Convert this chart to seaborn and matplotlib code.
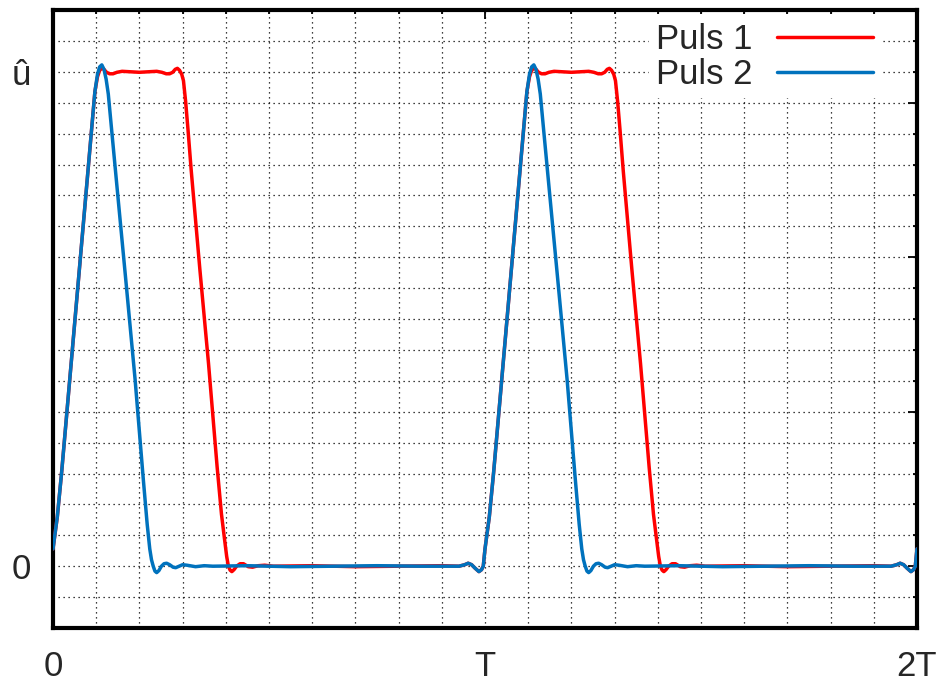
import numpy as np
import pandas as pd
import matplotlib
matplotlib.use('Agg')
import matplotlib.pyplot as plt
from matplotlib.ticker import MultipleLocator, FixedLocator, FixedFormatter
import seaborn as sns

# ── Data (one period, t in units of T, u in units of û) ──────────────────────
T_PULS1 = [0.000, 0.010, 0.020, 0.040, 0.060, 0.080, 0.090, 0.097, 0.103, 0.108,
           0.113, 0.118, 0.124, 0.131, 0.139, 0.148, 0.160, 0.180, 0.200, 0.220,
           0.240, 0.252, 0.262, 0.270, 0.277, 0.283, 0.288, 0.293, 0.298, 0.302,
           0.307, 0.3125, 0.320, 0.340, 0.360, 0.380, 0.390, 0.397, 0.402, 0.406,
           0.410, 0.414, 0.419, 0.425, 0.433, 0.441, 0.452, 0.462, 0.475, 0.490,
           0.510, 0.600, 0.700, 0.800, 0.900, 0.940, 0.953, 0.961, 0.969, 0.977,
           0.986, 0.992, 0.996]
U_PULS1 = [0.035, 0.100, 0.190, 0.390, 0.590, 0.790, 0.890, 0.960, 0.990, 1.003,
           1.007, 1.005, 0.999, 0.996, 0.996, 0.999, 1.001, 1.000, 0.999, 1.000,
           1.001, 0.999, 0.996, 0.996, 0.999, 1.005, 1.007, 1.003, 0.995, 0.982,
           0.940, 0.883, 0.800, 0.600, 0.410, 0.200, 0.105, 0.055, 0.020, 0.000,
           -0.008, -0.011, -0.007, 0.000, 0.005, 0.005, -0.001, -0.002, 0.001, 0.002,
           0.000, 0.001, -0.001, 0.000, 0.001, 0.000, 0.003, 0.006, 0.003, -0.004,
           -0.011, -0.007, 0.000]

T_PULS2 = [0.000, 0.010, 0.020, 0.040, 0.060, 0.080, 0.090, 0.097, 0.103, 0.108,
           0.113, 0.118, 0.123, 0.128, 0.136, 0.150, 0.170, 0.190, 0.209, 0.218,
           0.224, 0.228, 0.232, 0.236, 0.240, 0.245, 0.251, 0.257, 0.263, 0.270,
           0.278, 0.284, 0.292, 0.300, 0.310, 0.330, 0.350, 0.370, 0.450, 0.550,
           0.650, 0.750, 0.850, 0.940, 0.953, 0.961, 0.969, 0.977, 0.986, 0.992,
           0.996]
U_PULS2 = [0.035, 0.100, 0.190, 0.390, 0.590, 0.790, 0.890, 0.960, 0.995, 1.010,
           1.014, 1.005, 0.985, 0.955, 0.880, 0.750, 0.565, 0.378, 0.176, 0.085,
           0.035, 0.013, 0.000, -0.010, -0.013, -0.009, 0.000, 0.005, 0.006, 0.003,
           -0.002, -0.003, 0.000, 0.003, 0.002, -0.001, 0.001, 0.000, 0.001, -0.001,
           0.000, 0.001, 0.000, 0.000, 0.003, 0.006, 0.003, -0.004, -0.011, -0.007,
           0.000]

N_PERIODS = 2
X_TICKS = [0, 1, 2]
X_LABELS = ['0', 'T', '2T']
Y_TICKS = [0, 5 / 16, 10 / 16, 15 / 16, 1]
Y_LABELS = ['0', '', '', '', 'û']


def periodic(t, u, n):
    t = np.asarray(t); u = np.asarray(u)
    tt = np.concatenate([t + k for k in range(n)] + [[n]])
    uu = np.concatenate([u] * n + [[u[0]]])
    return tt, uu


t1, u1 = periodic(T_PULS1, U_PULS1, N_PERIODS)
t2, u2 = periodic(T_PULS2, U_PULS2, N_PERIODS)
df = pd.concat([
    pd.DataFrame({'t': t1, 'u': u1, 'Puls': 'Puls 1'}),
    pd.DataFrame({'t': t2, 'u': u2, 'Puls': 'Puls 2'}),
], ignore_index=True)

# ── Style ────────────────────────────────────────────────────────────────────
sns.set_style('white')
plt.rcParams['font.family'] = ['Liberation Sans', 'DejaVu Sans']

fig = plt.figure(figsize=(9.44, 6.84), dpi=100)
ax = fig.add_axes([53 / 944, 1 - 628 / 684, (917 - 53) / 944, (628 - 10) / 684])

sns.lineplot(data=df, x='t', y='u', hue='Puls', sort=False, estimator=None,
             palette={'Puls 1': '#ff0000', 'Puls 2': '#0072bd'},
             linewidth=2.5, ax=ax, zorder=3)

ax.set_xlim(0, 2)
ax.set_ylim(-2 / 16, 18 / 16)
ax.set_xlabel(''); ax.set_ylabel('')

ax.xaxis.set_major_locator(FixedLocator(X_TICKS))
ax.xaxis.set_major_formatter(FixedFormatter(X_LABELS))
ax.xaxis.set_minor_locator(MultipleLocator(0.1))
ax.yaxis.set_major_locator(FixedLocator(Y_TICKS))
ax.yaxis.set_major_formatter(FixedFormatter(Y_LABELS))
ax.yaxis.set_minor_locator(MultipleLocator(1 / 16))

ax.tick_params(which='both', direction='in', top=True, right=True,
               width=1.3, color='black', labelsize=25)
ax.tick_params(which='major', length=6.5)
ax.tick_params(which='minor', length=3.2)
ax.tick_params(axis='x', pad=16)
ax.tick_params(axis='y', pad=16)

# the û tick is a short one
for tk in ax.yaxis.get_major_ticks()[4:]:
    tk.tick1line.set_markersize(3.2)
    tk.tick2line.set_markersize(3.2)

ax.grid(which='both', color='black', linestyle=(0, (1, 3)), linewidth=0.9)
ax.set_axisbelow(True)

for sp in ax.spines.values():
    sp.set_visible(True)
    sp.set_color('black')
    sp.set_linewidth(3)

leg = ax.legend(loc='upper right', bbox_to_anchor=(0.977, 1.018), markerfirst=False,
                fontsize=25, handlelength=2.77, handletextpad=0.69,
                labelspacing=0.06, borderpad=0.2, frameon=True, fancybox=False)
leg.get_frame().set_facecolor('white')
leg.get_frame().set_edgecolor('none')
leg.get_frame().set_alpha(1)
for line in leg.get_lines():
    line.set_linewidth(2.5)

fig.savefig('out.png', dpi=100)
